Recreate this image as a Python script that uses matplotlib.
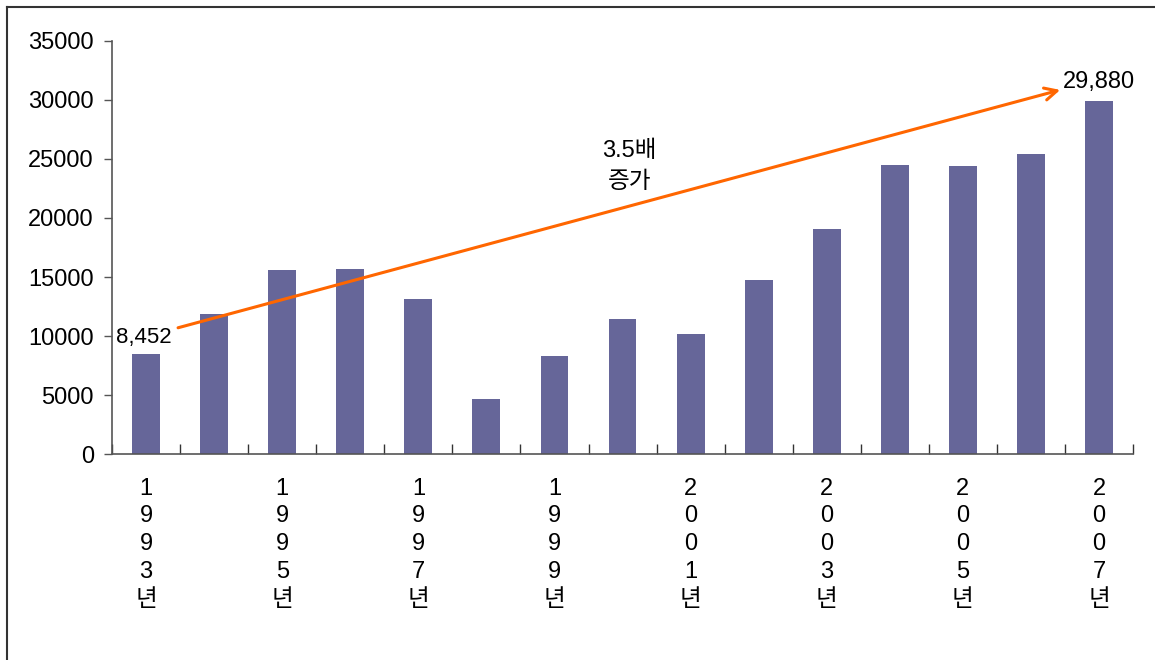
import numpy as np
import matplotlib.pyplot as plt
from matplotlib.lines import Line2D

plt.rcParams['font.family'] = ['Liberation Sans', 'Noto Sans CJK KR']

years = [1993, 1994, 1995, 1996, 1997, 1998, 1999, 2000,
         2001, 2002, 2003, 2004, 2005, 2006, 2007]
values = [8452, 11850, 15600, 15680, 13100, 4650, 8300, 11450,
          10150, 14750, 19050, 24500, 24400, 25400, 29880]
y_ticks = [0, 5000, 10000, 15000, 20000, 25000, 30000, 35000]
start_label = '8,452'
end_label = '29,880'
growth_label = '3.5배\n증가'

fig = plt.figure(figsize=(11.55, 6.6), dpi=100)
ax = fig.add_axes([0.097, 0.312, 0.884, 0.626])

x = np.arange(len(years))
ax.bar(x, values, width=0.41, color='#666699', zorder=2)

ax.set_xlim(-0.5, len(years) - 0.5)
ax.set_ylim(0, 35000)

for s in ['top', 'right']:
    ax.spines[s].set_visible(False)
for s in ['left', 'bottom']:
    ax.spines[s].set_color('#555555')
    ax.spines[s].set_linewidth(1.2)

ax.set_yticks(y_ticks)
ax.set_yticklabels([str(v) for v in y_ticks], fontsize=17)
ax.tick_params(axis='y', direction='out', length=6, width=1, color='#555555', pad=7)

# labels every other year, written top to bottom
ax.set_xticks(x[::2])
ax.set_xticklabels(['\n'.join(str(y)) + '\n년' for y in years[::2]],
                   fontsize=17, linespacing=1.34, va='top')
ax.tick_params(axis='x', which='major', length=0, pad=17)
ax.set_xticks(np.arange(-0.5, len(years), 1.0), minor=True)
ax.tick_params(axis='x', which='minor', direction='in', length=7, width=1, color='#333333')

# growth arrow from first to last year
ax.annotate('', xy=(13.43, 30850), xytext=(0.47, 10700),
            arrowprops=dict(arrowstyle='->', color='#ff6600', lw=2.2,
                            mutation_scale=22, shrinkA=0, shrinkB=0),
            zorder=3)
ax.text(0.38, 9900, start_label, ha='right', va='center', fontsize=16)
ax.text(14.0, 31550, end_label, ha='center', va='center', fontsize=17)
ax.text(7.1, 24350, growth_label, ha='center', va='center', fontsize=17, linespacing=1.55)

# outer frame
fig.add_artist(Line2D([0.006, 0.006], [0.0, 0.989], color='#333333', lw=1.5))
fig.add_artist(Line2D([0.006, 1.0], [0.989, 0.989], color='#333333', lw=1.5))

fig.savefig('out.png', dpi=100)
